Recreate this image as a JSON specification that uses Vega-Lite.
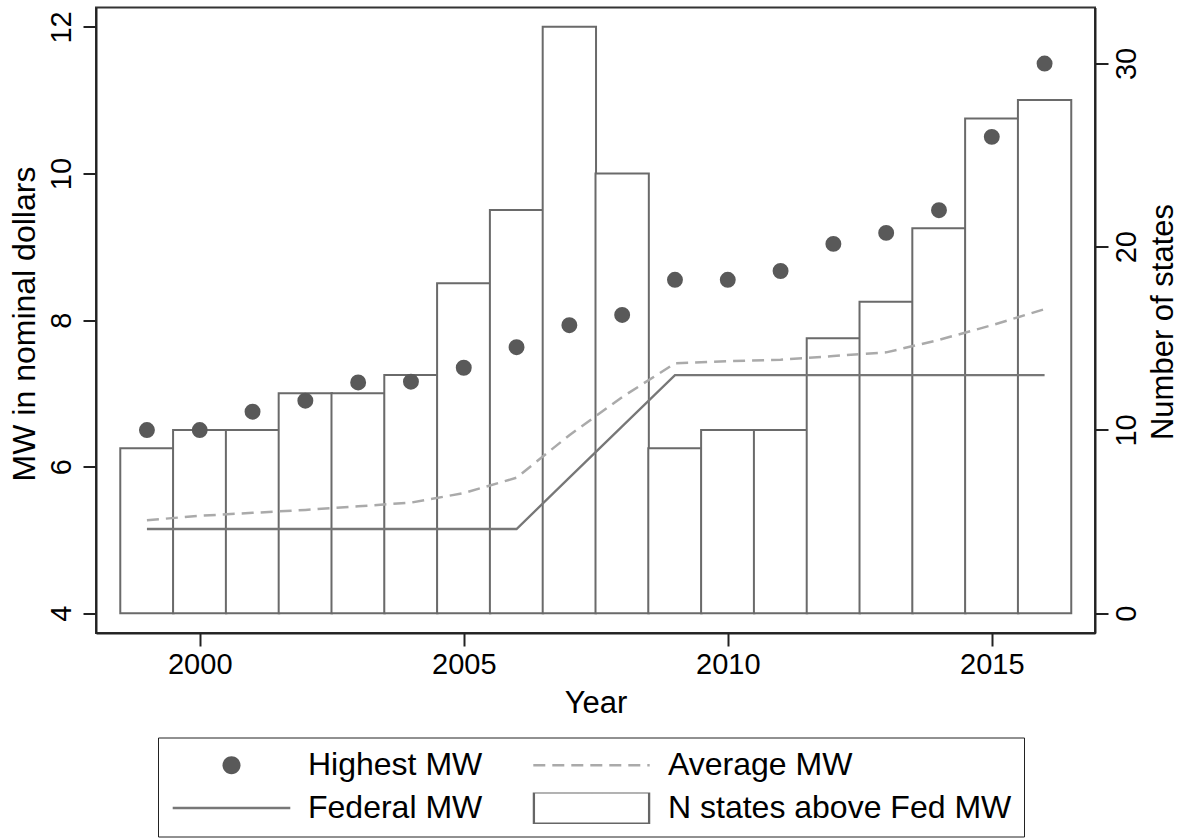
{
  "$schema": "https://vega.github.io/schema/vega-lite/v6.json",
  "width": 999,
  "height": 625.5,
  "autosize": {"type": "none"},
  "padding": {"left": 96, "top": 7.5, "right": 88, "bottom": 205},
  "background": "white",
  "data": {"values": [
    {"year": 1999, "highest": 6.50, "average": 5.27, "federal": 5.15, "nstates": 9},
    {"year": 2000, "highest": 6.50, "average": 5.33, "federal": 5.15, "nstates": 10},
    {"year": 2001, "highest": 6.75, "average": 5.37, "federal": 5.15, "nstates": 10},
    {"year": 2002, "highest": 6.90, "average": 5.41, "federal": 5.15, "nstates": 12},
    {"year": 2003, "highest": 7.15, "average": 5.46, "federal": 5.15, "nstates": 12},
    {"year": 2004, "highest": 7.16, "average": 5.51, "federal": 5.15, "nstates": 13},
    {"year": 2005, "highest": 7.35, "average": 5.64, "federal": 5.15, "nstates": 18},
    {"year": 2006, "highest": 7.63, "average": 5.85, "federal": 5.15, "nstates": 22},
    {"year": 2007, "highest": 7.93, "average": 6.43, "federal": 5.85, "nstates": 32},
    {"year": 2008, "highest": 8.07, "average": 6.95, "federal": 6.55, "nstates": 24},
    {"year": 2009, "highest": 8.55, "average": 7.41, "federal": 7.25, "nstates": 9},
    {"year": 2010, "highest": 8.55, "average": 7.44, "federal": 7.25, "nstates": 10},
    {"year": 2011, "highest": 8.67, "average": 7.46, "federal": 7.25, "nstates": 10},
    {"year": 2012, "highest": 9.04, "average": 7.51, "federal": 7.25, "nstates": 15},
    {"year": 2013, "highest": 9.19, "average": 7.56, "federal": 7.25, "nstates": 17},
    {"year": 2014, "highest": 9.50, "average": 7.73, "federal": 7.25, "nstates": 21},
    {"year": 2015, "highest": 10.50, "average": 7.93, "federal": 7.25, "nstates": 27},
    {"year": 2016, "highest": 11.50, "average": 8.15, "federal": 7.25, "nstates": 28}
  ]},
  "encoding": {
    "x": {
      "field": "year", "type": "quantitative",
      "scale": {"domain": [1998.13, 2016.86], "nice": false, "zero": false},
      "axis": {
        "title": "Year", "values": [2000, 2005, 2010, 2015], "format": "d",
        "labelPadding": 4, "titleX": 499.5, "titleY": 79, "titleBaseline": "alphabetic"
      }
    }
  },
  "layer": [
    {
      "mark": {"type": "bar", "width": 53.33, "fill": "white", "stroke": "#6a6a6a", "strokeWidth": 2},
      "encoding": {
        "y": {
          "field": "nstates", "type": "quantitative",
          "scale": {"domain": [-1.075, 33.05], "nice": false, "zero": false},
          "axis": {
            "orient": "right", "title": "Number of states", "values": [0, 10, 20, 30], "format": "d",
            "labelAngle": -90, "labelAlign": "center", "labelBaseline": "alphabetic", "labelPadding": 27,
            "titleAngle": -90, "titleBaseline": "alphabetic", "titleAlign": "center",
            "titleX": 77, "titleY": 314
          }
        },
        "y2": {"datum": 0}
      }
    },
    {
      "layer": [
        {
          "mark": {"type": "line", "stroke": "#aaaaaa", "strokeWidth": 2.5, "strokeDash": [12, 7]},
          "encoding": {
            "y": {
              "field": "average", "type": "quantitative",
              "scale": {"domain": [3.731, 12.265], "nice": false, "zero": false},
              "axis": {
                "orient": "left", "title": "MW in nominal dollars", "values": [4, 6, 8, 10, 12], "format": "d",
                "labelAngle": -90, "labelAlign": "center", "labelBaseline": "alphabetic", "labelPadding": 13,
                "titleAngle": -90, "titleBaseline": "alphabetic", "titleAlign": "center",
                "titleX": -62, "titleY": 316, "titleFontSize": 32
              }
            }
          }
        },
        {
          "mark": {"type": "line", "stroke": "#777777", "strokeWidth": 2.3},
          "encoding": {"y": {"field": "federal", "type": "quantitative"}}
        },
        {
          "mark": {"type": "point", "filled": true, "fill": "#595959", "size": 254, "opacity": 1, "strokeWidth": 0},
          "encoding": {"y": {"field": "highest", "type": "quantitative"}}
        },
        {
          "transform": [{"filter": "false"}],
          "mark": {"type": "point", "opacity": 1},
          "encoding": {
            "y": {"field": "highest", "type": "quantitative"},
            "shape": {
              "field": "series", "type": "nominal",
              "scale": {
                "domain": ["Highest MW", "Average MW", "Federal MW", "N states above Fed MW"],
                "range": [
                  "M-0.15,0A0.15,0.15,0,1,0,0.15,0A0.15,0.15,0,1,0,-0.15,0Z",
                  "M-0.97,0L0.97,0",
                  "M-0.98,0L0.98,0",
                  "M-0.96,-0.26L0.96,-0.26L0.96,0.26L-0.96,0.26Z"
                ]
              },
              "legend": {"title": null}
            },
            "fill": {
              "field": "series", "type": "nominal",
              "scale": {
                "domain": ["Highest MW", "Average MW", "Federal MW", "N states above Fed MW"],
                "range": ["#595959", "transparent", "transparent", "#ffffff"]
              },
              "legend": {"title": null}
            },
            "stroke": {
              "field": "series", "type": "nominal",
              "scale": {
                "domain": ["Highest MW", "Average MW", "Federal MW", "N states above Fed MW"],
                "range": ["transparent", "#aaaaaa", "#777777", "#666666"]
              },
              "legend": {"title": null}
            },
            "strokeDash": {
              "field": "series", "type": "nominal",
              "scale": {
                "domain": ["Highest MW", "Average MW", "Federal MW", "N states above Fed MW"],
                "range": [[1, 0], [12, 7], [1, 0], [1, 0]]
              },
              "legend": {"title": null}
            }
          }
        }
      ]
    }
  ],
  "resolve": {"scale": {"y": "independent"}},
  "config": {
    "view": {"stroke": "#333333", "strokeWidth": 2},
    "font": "Liberation Sans",
    "axis": {
      "grid": false, "domainColor": "#222222", "domainWidth": 2,
      "tickColor": "#222222", "tickWidth": 2, "tickSize": 13,
      "labelFont": "Liberation Sans", "labelFontSize": 29, "labelColor": "black",
      "titleFont": "Liberation Sans", "titleFontSize": 31, "titleFontWeight": "normal", "titleColor": "black",
      "labelOverlap": false, "labelFlush": false
    },
    "legend": {
      "orient": "none", "legendX": 62, "legendY": 730,
      "direction": "horizontal",
      "columns": 2, "symbolSize": 14400, "clipHeight": 31,
      "symbolOffset": 0, "labelOffset": 15, "columnPadding": 47, "rowPadding": 10,
      "padding": 12, "strokeColor": "#222222", "fillColor": "white",
      "symbolStrokeWidth": 2.3, "symbolOpacity": 1,
      "labelFont": "Liberation Sans", "labelFontSize": 32, "labelColor": "black",
      "labelLimit": 600
    }
  }
}
